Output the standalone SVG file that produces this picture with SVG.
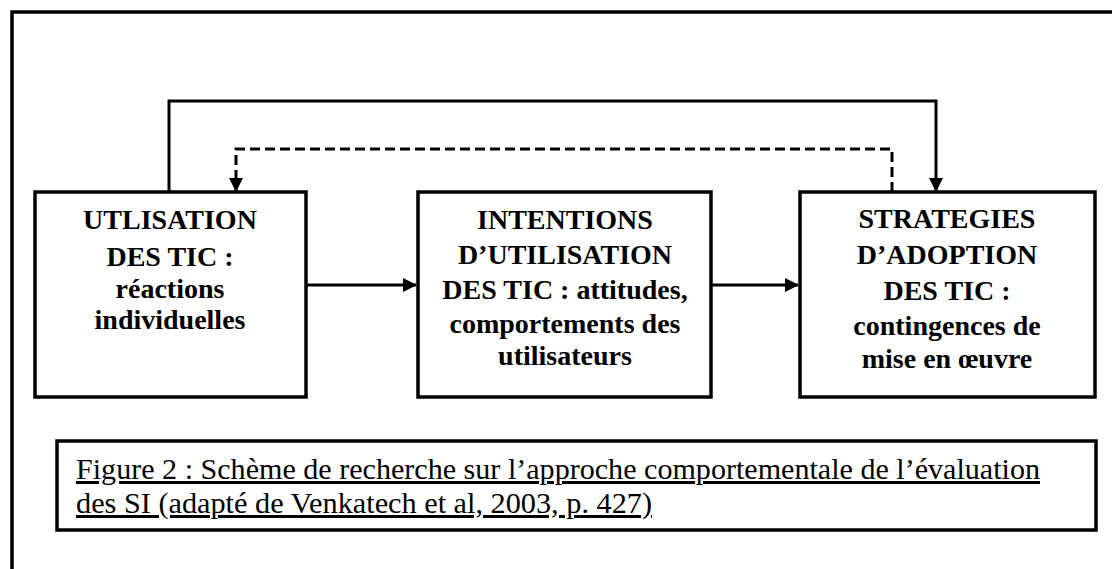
<svg xmlns="http://www.w3.org/2000/svg" width="1112" height="569" viewBox="0 0 1112 569">
<defs>
<style>
.box{fill:#fff;stroke:#000;stroke-width:3.5}
.frame{fill:none;stroke:#000;stroke-width:3.5}
.conn{fill:none;stroke:#000;stroke-width:3}
.dash{stroke-dasharray:10 5}
.t{font-family:"Liberation Serif","Times New Roman",serif;font-weight:bold;font-size:28px;fill:#000;text-anchor:middle}
.cap{font-family:"Liberation Serif","Times New Roman",serif;font-size:30px;fill:#000;text-decoration:underline}
</style>
<marker id="arr" viewBox="0 0 14 14" refX="13" refY="7" markerWidth="14" markerHeight="14" markerUnits="userSpaceOnUse" orient="auto">
<path d="M0,0 L14,7 L0,14 Z" fill="#000"/>
</marker>
</defs>
<rect width="1112" height="569" fill="#fff"/>
<path class="frame" d="M12,569 V12 H1112"/>
<g id="connectors">
<path class="conn" d="M169,192 V101 H936 V191" marker-end="url(#arr)"/>
<path class="conn dash" d="M892,192 V149 H236 V191" marker-end="url(#arr)"/>
<path class="conn" d="M306,285 H416" marker-end="url(#arr)"/>
<path class="conn" d="M711,285 H798" marker-end="url(#arr)"/>
</g>
<g id="node1">
<rect class="box" x="35" y="192" width="271" height="205"/>
<text class="t" x="170" y="229">UTLISATION</text>
<text class="t" x="170" y="266">DES TIC :</text>
<text class="t" x="170" y="298">réactions</text>
<text class="t" x="170" y="329">individuelles</text>
</g>
<g id="node2">
<rect class="box" x="418" y="192" width="293" height="205"/>
<text class="t" x="565" y="229">INTENTIONS</text>
<text class="t" x="565" y="264">D’UTILISATION</text>
<text class="t" x="565" y="299">DES TIC : attitudes,</text>
<text class="t" x="565" y="333">comportements des</text>
<text class="t" x="565" y="365">utilisateurs</text>
</g>
<g id="node3">
<rect class="box" x="800" y="192" width="295" height="205"/>
<text class="t" x="947" y="228">STRATEGIES</text>
<text class="t" x="947" y="264">D’ADOPTION</text>
<text class="t" x="947" y="300">DES TIC :</text>
<text class="t" x="947" y="335">contingences de</text>
<text class="t" x="947" y="368">mise en œuvre</text>
</g>
<g id="caption">
<rect class="box" x="57" y="441" width="1039" height="89"/>
<text class="cap" x="76" y="479" textLength="964" lengthAdjust="spacingAndGlyphs">Figure 2 : Schème de recherche sur l’approche comportementale de l’évaluation</text>
<text class="cap" x="76" y="513" textLength="576" lengthAdjust="spacingAndGlyphs">des SI (adapté de Venkatech et al, 2003, p. 427)</text>
</g>
</svg>
